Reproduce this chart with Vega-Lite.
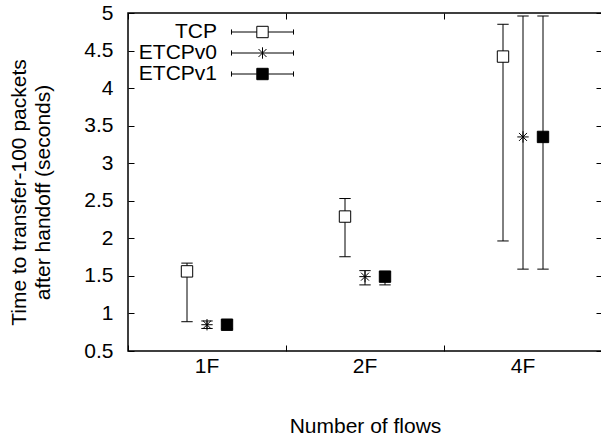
{
  "$schema": "https://vega.github.io/schema/vega-lite/v6.json",
  "width": 474,
  "height": 338,
  "autosize": {"type": "none"},
  "padding": {"left": 128, "top": 13, "right": 0, "bottom": 90},
  "background": "white",
  "config": {
    "font": "Liberation Sans",
    "view": {"stroke": "black", "strokeWidth": 1.5},
    "axis": {
      "domain": false, "grid": false,
      "labelFont": "Liberation Sans", "labelFontSize": 21, "labelColor": "black",
      "titleFont": "Liberation Sans", "titleFontSize": 21, "titleFontWeight": "normal", "titleColor": "black",
      "tickColor": "black", "tickWidth": 1, "tickSize": -6
    }
  },
  "data": {"values": [
    {"flows": "1F", "series": "TCP", "mean": 1.56, "lo": 0.89, "hi": 1.67},
    {"flows": "2F", "series": "TCP", "mean": 2.29, "lo": 1.755, "hi": 2.53},
    {"flows": "4F", "series": "TCP", "mean": 4.42, "lo": 1.965, "hi": 4.85},
    {"flows": "1F", "series": "ETCPv0", "mean": 0.85, "lo": 0.80, "hi": 0.90},
    {"flows": "2F", "series": "ETCPv0", "mean": 1.49, "lo": 1.38, "hi": 1.57},
    {"flows": "4F", "series": "ETCPv0", "mean": 3.35, "lo": 1.59, "hi": 4.96},
    {"flows": "1F", "series": "ETCPv1", "mean": 0.85, "lo": 0.80, "hi": 0.90},
    {"flows": "2F", "series": "ETCPv1", "mean": 1.49, "lo": 1.38, "hi": 1.55},
    {"flows": "4F", "series": "ETCPv1", "mean": 3.35, "lo": 1.59, "hi": 4.96}
  ]},
  "resolve": {"axis": {"x": "independent", "y": "independent"}},
  "layer": [
    {
      "mark": {"type": "rule", "color": "black", "strokeWidth": 1},
      "encoding": {
        "x": {"field": "flows", "type": "nominal",
          "scale": {"type": "band", "domain": ["1F", "2F", "4F"], "paddingInner": 0, "paddingOuter": 0},
          "axis": {"orient": "bottom", "title": "Number of flows", "bandPosition": 0, "labelAngle": 0, "labelPadding": 10,
            "titleX": 237, "titleY": 81, "titleBaseline": "alphabetic", "titleAlign": "center"}},
        "xOffset": {"field": "series", "type": "nominal",
          "scale": {"type": "point", "domain": ["TCP", "ETCPv0", "ETCPv1"], "range": [59, 99], "padding": 0}},
        "y": {"field": "lo", "type": "quantitative",
          "scale": {"domain": [0.5, 5], "nice": false, "zero": false},
          "axis": {"orient": "left", "values": [0.5, 1, 1.5, 2, 2.5, 3, 3.5, 4, 4.5, 5], "format": "~g", "labelPadding": 21,
            "title": ["Time to transfer-100 packets", "after handoff (seconds)"],
            "titleAngle": -90, "titleX": -103, "titleY": 179, "titleBaseline": "alphabetic", "titleAlign": "center", "titleLineHeight": 24}},
        "y2": {"field": "hi"}
      }
    },
    {
      "mark": {"type": "point", "shape": "M-1,0H1", "size": 130, "filled": false, "stroke": "black", "strokeWidth": 1, "opacity": 1},
      "encoding": {
        "x": {"field": "flows", "type": "nominal",
          "scale": {"type": "band", "domain": ["1F", "2F", "4F"], "paddingInner": 0, "paddingOuter": 0}, "axis": null},
        "xOffset": {"field": "series", "type": "nominal",
          "scale": {"type": "point", "domain": ["TCP", "ETCPv0", "ETCPv1"], "range": [59, 99], "padding": 0}},
        "y": {"field": "lo", "type": "quantitative", "scale": {"domain": [0.5, 5], "nice": false, "zero": false}, "axis": null}
      }
    },
    {
      "mark": {"type": "point", "shape": "M-1,0H1", "size": 130, "filled": false, "stroke": "black", "strokeWidth": 1, "opacity": 1},
      "encoding": {
        "x": {"field": "flows", "type": "nominal",
          "scale": {"type": "band", "domain": ["1F", "2F", "4F"], "paddingInner": 0, "paddingOuter": 0},
          "axis": {"orient": "top", "bandPosition": 0, "labels": false, "title": null}},
        "xOffset": {"field": "series", "type": "nominal",
          "scale": {"type": "point", "domain": ["TCP", "ETCPv0", "ETCPv1"], "range": [59, 99], "padding": 0}},
        "y": {"field": "hi", "type": "quantitative", "scale": {"domain": [0.5, 5], "nice": false, "zero": false},
          "axis": {"orient": "right", "values": [0.5, 1, 1.5, 2, 2.5, 3, 3.5, 4, 4.5, 5], "labels": false, "title": null}}
      }
    },
    {
      "mark": {"type": "point", "size": 130, "filled": true, "stroke": "black", "strokeWidth": 1, "opacity": 1},
      "encoding": {
        "x": {"field": "flows", "type": "nominal",
          "scale": {"type": "band", "domain": ["1F", "2F", "4F"], "paddingInner": 0, "paddingOuter": 0}, "axis": null},
        "xOffset": {"field": "series", "type": "nominal",
          "scale": {"type": "point", "domain": ["TCP", "ETCPv0", "ETCPv1"], "range": [59, 99], "padding": 0}},
        "y": {"field": "mean", "type": "quantitative", "scale": {"domain": [0.5, 5], "nice": false, "zero": false}, "axis": null},
        "shape": {"field": "series", "type": "nominal",
          "scale": {"domain": ["ETCPv0", "TCP", "ETCPv1"], "range": ["M-1,0H1M0,-1V1M-0.7,-0.7L0.7,0.7M-0.7,0.7L0.7,-0.7", "square", "square"]}, "legend": null},
        "fill": {"field": "series", "type": "nominal",
          "scale": {"domain": ["TCP", "ETCPv0", "ETCPv1"], "range": ["white", "white", "black"]},
          "legend": {
            "orient": "none", "legendX": 124, "legendY": 8.5, "title": null, "direction": "vertical",
            "symbolSize": 130, "symbolStrokeColor": "black", "symbolStrokeWidth": 1,
            "symbolType": {"expr": "datum.value === 'TCP' ? 'M-5.44,0H-1M1,0H5.44M-5.44,-0.45V0.45M5.44,-0.45V0.45M-1,-1H1V1H-1Z' : datum.value === 'ETCPv0' ? 'M-5.44,0H5.44M-5.44,-0.45V0.45M5.44,-0.45V0.45M0,-1V1M-0.7,-0.7L0.7,0.7M-0.7,0.7L0.7,-0.7' : 'M-5.44,0H-1M1,0H5.44M-5.44,-0.45V0.45M5.44,-0.45V0.45M-1,-1H1V1H-1Z'"},
            "labelFont": "Liberation Sans", "labelFontSize": 21, "labelColor": "black",
            "labelAlign": "right", "labelOffset": -56, "rowPadding": -5.5, "padding": 0,
            "encode": {"symbols": {
              "stroke": {"value": "black"},
              "strokeWidth": {"value": 1},
              "opacity": {"value": 1}
            }}
          }}
      }
    }
  ]
}
